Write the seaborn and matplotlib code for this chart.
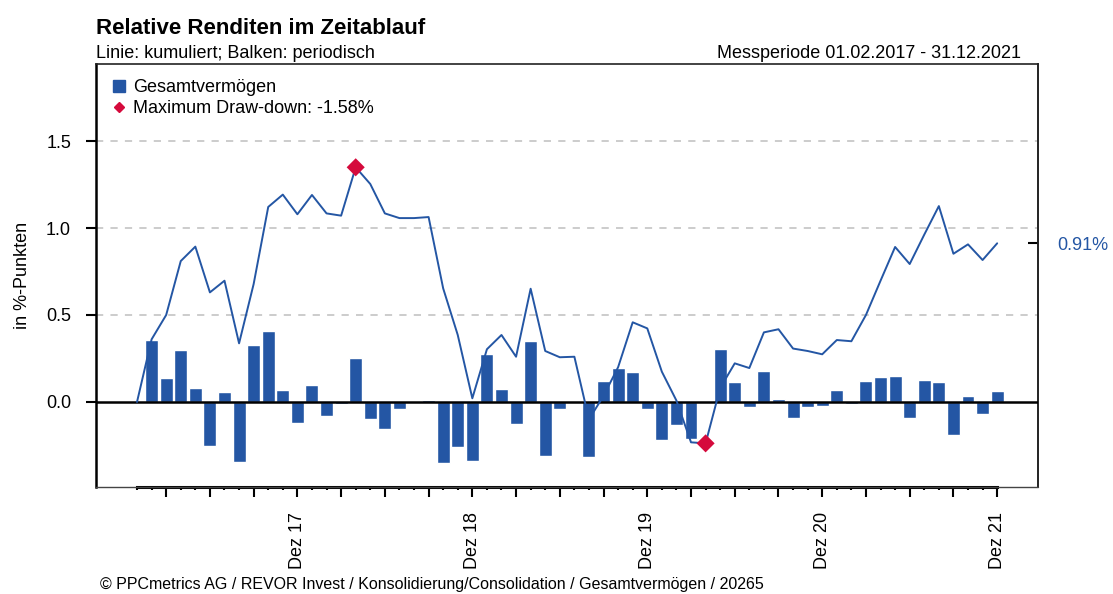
import numpy as np
import pandas as pd
import seaborn as sns
import matplotlib.pyplot as plt
from matplotlib.lines import Line2D

# -----------------------------
# DATA
# -----------------------------
# month ends, Jan 2017 (start point of the line) to Dec 2021
month_ends = pd.date_range("2017-01-31", "2021-12-31", freq="ME")

# periodic relative returns (bars), Feb 2017 - Dec 2021, in %-points
periodic = [
    0.356, 0.136, 0.299, 0.079, -0.251, 0.056, -0.343, 0.328, 0.408, 0.069, -0.119,
    0.098, -0.080, -0.010, 0.253, -0.098, -0.155, -0.040, 0.000, 0.011, -0.349, -0.257, -0.337,
    0.276, 0.075, -0.125, 0.351, -0.308, -0.038, 0.005, -0.314, 0.121, 0.193, 0.170, -0.038,
    -0.216, -0.130, -0.213, -0.005, 0.305, 0.115, -0.029, 0.178, 0.017, -0.090, -0.029, -0.023,
    0.069, -0.010, 0.121, 0.144, 0.149, -0.090, 0.126, 0.115, -0.188, 0.034, -0.067, 0.063,
]

# cumulative relative return (line), Jan 2017 - Dec 2021
cumulative = [
    0.000,
    0.360, 0.500, 0.810, 0.893, 0.630, 0.697, 0.337, 0.678, 1.121, 1.192, 1.079,
    1.190, 1.084, 1.071, 1.349, 1.253, 1.084, 1.057, 1.057, 1.063, 0.653, 0.385, 0.021,
    0.303, 0.385, 0.260, 0.651, 0.293, 0.257, 0.260, -0.100, 0.035, 0.200, 0.458, 0.423,
    0.174, 0.008, -0.232, -0.238, 0.080, 0.222, 0.195, 0.400, 0.418, 0.307, 0.293, 0.274,
    0.356, 0.349, 0.500, 0.697, 0.891, 0.793, 0.962, 1.126, 0.852, 0.906, 0.816, 0.912,
]

max_drawdown = -1.58
y_ticks = [0.0, 0.5, 1.0, 1.5]

BLUE = "#2456a4"
RED = "#d50a3c"
GRID = "#c8c8c8"

df_line = pd.DataFrame({"pos": np.arange(len(cumulative)), "value": cumulative})
df_bar = pd.DataFrame({"pos": np.arange(1, len(periodic) + 1), "value": periodic})

# peak and trough of the maximum draw-down
peak_i = int(np.argmax(cumulative))
trough_i = peak_i + int(np.argmin(cumulative[peak_i:]))
df_dd = df_line.iloc[[peak_i, trough_i]]

# -----------------------------
# FIGURE
# -----------------------------
sns.set_theme(style="white")
plt.rcParams["font.family"] = ["Liberation Sans", "DejaVu Sans"]
for key in ["text.color", "axes.labelcolor", "xtick.color", "ytick.color"]:
    plt.rcParams[key] = "black"

fig = plt.figure(figsize=(11.13, 5.94), dpi=100)
ax = fig.add_axes([0.0863, 0.1801, 0.8463, 0.7122])

# grid lines (dashed, without the zero line)
for yv in y_ticks[1:]:
    ax.axhline(yv, color=GRID, lw=1.3, ls=(0, (4, 4)), zorder=0)

sns.barplot(data=df_bar, x="pos", y="value", native_scale=True, color=BLUE,
            saturation=1, width=0.89, ax=ax, zorder=2)
ax.axhline(0, color="black", lw=1.8, zorder=3)
sns.lineplot(data=df_line, x="pos", y="value", color=BLUE, lw=1.4, ax=ax, zorder=4)
sns.scatterplot(data=df_dd, x="pos", y="value", marker="D", s=85, color=RED,
                edgecolor="none", ax=ax, zorder=5)

ax.set_xlim(-2.81, 61.8)
ax.set_ylim(-0.489, 1.943)
ax.set_xlabel("")
ax.set_ylabel("in %-Punkten", fontsize=13, labelpad=11)

# x ticks: minor every month, major at quarter ends, labels in December
quarter_pos = [i for i, d in enumerate(month_ends) if d.month % 3 == 0]
quarter_lab = [f"Dez {d.year % 100}" if d.month == 12 else "" for d in month_ends
               if d.month % 3 == 0]
ax.set_xticks(quarter_pos, quarter_lab, rotation=90, fontsize=13)
ax.set_xticks(np.arange(len(month_ends)), minor=True)
ax.tick_params(axis="x", which="major", length=7, width=1.5, pad=11, bottom=True,
               direction="out")
ax.tick_params(axis="x", which="minor", length=2.5, width=1.5, bottom=True,
               direction="out")

ax.set_yticks(y_ticks, [f"{v:.1f}" for v in y_ticks], fontsize=13)
ax.tick_params(axis="y", length=7, width=1.5, pad=11, left=True, direction="out")

# frame
for side in ["top", "right"]:
    ax.spines[side].set_color("#222222")
    ax.spines[side].set_linewidth(1.2)
ax.spines["left"].set_color("black")
ax.spines["left"].set_linewidth(1.8)
ax.spines["bottom"].set_color("black")
ax.spines["bottom"].set_linewidth(2.2)
ax.spines["bottom"].set_bounds(0, len(month_ends) - 1)
ax.plot([0, 1], [0, 0], transform=ax.transAxes, color="#444444", lw=1.0,
        clip_on=False, zorder=6)

# last value on the right side
last = cumulative[-1]
sec = ax.secondary_yaxis("right")
sec.set_yticks([last], [f"{last:.2f}%"])
sec.tick_params(axis="y", direction="in", length=7, width=1.5, pad=14,
                labelsize=13, colors="black")
sec.tick_params(axis="y", labelcolor=BLUE)
sec.spines["right"].set_linewidth(1.2)

# legend
handles = [
    Line2D([], [], marker="s", ls="none", color=BLUE, markersize=8),
    Line2D([], [], marker="D", ls="none", color=RED, markersize=5),
]
labels = ["Gesamtvermögen", f"Maximum Draw-down: {max_drawdown:.2f}%"]
ax.legend(handles, labels, loc="upper left", frameon=False, fontsize=13,
          handlelength=0.8, handletextpad=0.4, borderaxespad=0.5,
          labelspacing=0.2, borderpad=0.35)

# titles and footer
fig.text(0.0863, 0.943, "Relative Renditen im Zeitablauf", fontsize=16,
         fontweight="bold", va="baseline", ha="left")
fig.text(0.0863, 0.902, "Linie: kumuliert; Balken: periodisch", fontsize=13,
         va="baseline", ha="left")
fig.text(0.917, 0.902, "Messperiode 01.02.2017 - 31.12.2021", fontsize=13,
         va="baseline", ha="right")
fig.text(0.0898, 0.009, "© PPCmetrics AG / REVOR Invest / Konsolidierung/Consolidation"
         " / Gesamtvermögen / 20265", fontsize=11.5, va="baseline", ha="left")

fig.savefig("out.png", dpi=100)
